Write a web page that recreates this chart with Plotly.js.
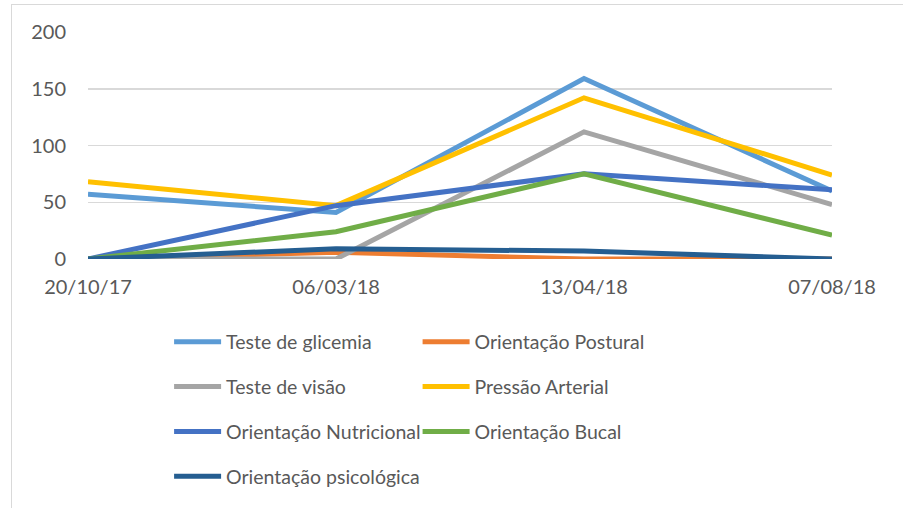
<!DOCTYPE html>
<html>
<head>
<meta charset="utf-8">
<script src="https://cdn.plot.ly/plotly-3.0.1.min.js"></script>
<style>
html,body{margin:0;padding:0;background:#fff;overflow:hidden;}
#frame{position:absolute;left:11px;top:4px;width:920px;height:540px;border:1.5px solid #D9D9D9;box-sizing:border-box;pointer-events:none;z-index:5;}
#chart{position:absolute;left:0;top:0;width:903px;height:508px;}
</style>
</head>
<body>
<div id="frame"></div>
<div id="chart"></div>
<script>
const dates = ["20/10/17", "06/03/18", "13/04/18", "07/08/18"];
const testeGlicemia = [57, 41, 159, 60];
const orientacaoPostural = [0, 6, 0, 0];
const testeVisao = [0, 0, 112, 48];
const pressaoArterial = [68, 47, 142, 74];
const orientacaoNutricional = [0, 47, 75, 61];
const orientacaoBucal = [0, 24, 75, 21];
const orientacaoPsicologica = [0, 9, 7, 0];

const seriesNames = ["Teste de glicemia", "Orientação Postural", "Teste de visão", "Pressão Arterial",
  "Orientação Nutricional", "Orientação Bucal", "Orientação psicológica"];
const seriesValues = [testeGlicemia, orientacaoPostural, testeVisao, pressaoArterial,
  orientacaoNutricional, orientacaoBucal, orientacaoPsicologica];
const colors = ["#5B9BD5", "#ED7D31", "#A5A5A5", "#FFC000", "#4472C4", "#70AD47", "#255E91"];
const legendIds = ["legend", "legend2", "legend", "legend2", "legend", "legend2", "legend"];

const traces = seriesNames.map((n, i) => ({
  type: "scatter", mode: "lines", name: n, x: dates, y: seriesValues[i],
  line: {color: colors[i], width: 5},
  legend: legendIds[i], legendgroup: "g" + i
}));

const fontFam = "Lato, sans-serif";
const legendCommon = {
  orientation: "v", xanchor: "left", yanchor: "top", yref: "container", xref: "paper",
  font: {family: fontFam, size: 19.5, color: "#595959"},
  tracegroupgap: 16.5, bgcolor: "rgba(0,0,0,0)", itemwidth: 47, traceorder: "grouped"
};

const layout = {
  width: 903, height: 508,
  margin: {l: 88, r: 71, t: 32, b: 249},
  paper_bgcolor: "rgba(0,0,0,0)", plot_bgcolor: "rgba(0,0,0,0)",
  font: {family: fontFam, size: 20, color: "#595959"},
  showlegend: true,
  xaxis: {type: "category", range: [0, 3], showgrid: false, zeroline: false,
    showline: false, ticks: "", ticklabelstandoff: 14, tickfont: {size: 20, color: "#595959"}},
  yaxis: {range: [0, 200], dtick: 50, showgrid: true, gridcolor: "#D9D9D9", gridwidth: 1.5,
    zeroline: false, showline: false, ticks: "", ticklabelstandoff: 21, tickfont: {size: 20, color: "#595959"}},
  legend: Object.assign({}, legendCommon, {x: 0.109, y: 0.365}),
  legend2: Object.assign({}, legendCommon, {x: 0.443, y: 0.365})
};

Plotly.newPlot("chart", traces, layout, {displayModeBar: false, staticPlot: true});
</script>
</body>
</html>
